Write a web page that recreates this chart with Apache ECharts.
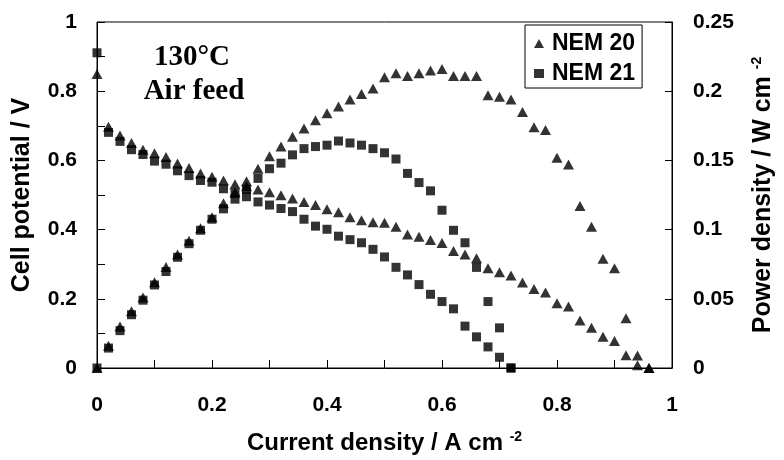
<!DOCTYPE html>
<html><head><meta charset="utf-8">
<script src="https://cdn.jsdelivr.net/npm/echarts@6/dist/echarts.min.js"></script>
<style>html,body{margin:0;padding:0;background:#fff}#c{width:784px;height:460px}</style>
</head><body><div id="c"></div>
<script>
// NEM 20 (triangles)
const current20 = [0,0.02,0.04,0.06,0.08,0.10,0.12,0.14,0.16,0.18,0.20,0.22,0.24,0.26,0.28,0.30,0.32,0.34,0.36,0.38,0.40,0.42,0.44,0.46,0.48,0.50,0.52,0.54,0.56,0.58,0.60,0.62,0.64,0.66,0.68,0.70,0.72,0.74,0.76,0.78,0.80,0.82,0.84,0.86,0.88,0.90,0.92,0.94,0.96];
const potential20 = [0.85,0.697,0.672,0.650,0.631,0.621,0.610,0.591,0.578,0.562,0.553,0.542,0.531,0.525,0.516,0.508,0.499,0.490,0.480,0.471,0.459,0.450,0.436,0.427,0.421,0.420,0.408,0.386,0.379,0.370,0.361,0.338,0.328,0.317,0.288,0.277,0.267,0.247,0.228,0.218,0.187,0.178,0.137,0.116,0.090,0.078,0.037,0.008,0];
const power20 = [0,0.016,0.030,0.041,0.051,0.062,0.073,0.082,0.092,0.101,0.109,0.119,0.127,0.135,0.144,0.153,0.160,0.167,0.173,0.179,0.184,0.189,0.194,0.198,0.202,0.210,0.213,0.211,0.213,0.215,0.216,0.211,0.211,0.211,0.197,0.196,0.194,0.185,0.174,0.172,0.152,0.147,0.117,0.102,0.079,0.072,0.036,0.009,0];
// NEM 21 (squares)
const current21 = [0,0.02,0.04,0.06,0.08,0.10,0.12,0.14,0.16,0.18,0.20,0.22,0.24,0.26,0.28,0.30,0.32,0.34,0.36,0.38,0.40,0.42,0.44,0.46,0.48,0.50,0.52,0.54,0.56,0.58,0.60,0.62,0.64,0.66,0.68,0.70,0.72];
const potential21 = [0.911,0.681,0.655,0.631,0.617,0.598,0.589,0.570,0.556,0.542,0.537,0.518,0.504,0.495,0.480,0.471,0.461,0.452,0.430,0.410,0.401,0.381,0.371,0.362,0.343,0.321,0.291,0.269,0.241,0.213,0.192,0.171,0.121,0.090,0.061,0.031,0];
const power21 = [0,0.0144,0.027,0.0385,0.049,0.060,0.0697,0.080,0.0898,0.0995,0.1075,0.115,0.122,0.129,0.137,0.144,0.148,0.154,0.1585,0.160,0.161,0.164,0.1626,0.161,0.1585,0.1555,0.151,0.1406,0.134,0.128,0.114,0.0995,0.0905,0.0727,0.048,0.029,0];

const seriesNames = ['NEM 20','NEM 21'];
const annotation = ['130°C','Air feed'];

const pairs = (xs, ys) => xs.map((x, i) => [x, ys[i]]);
const sans = 'Liberation Sans, Arial, sans-serif';
const serif = 'Liberation Serif, Times New Roman, serif';
const supStyle = {fontFamily:sans, fontWeight:'bold', fontSize:14, color:'#000', verticalAlign:'top', padding:[0,0,12,0]};

const chart = echarts.init(document.getElementById('c'), null, {renderer:'canvas'});
const tri = {symbol:'triangle', symbolSize:[11,10], itemStyle:{color:'#000'}};
const sq = {symbol:'rect', symbolSize:9, itemStyle:{color:'#000'}};
chart.setOption({
  animation:false,
  backgroundColor:'#fff',
  grid:{left:97, top:22, width:575, height:352, show:true, borderColor:'#000', borderWidth:1, containLabel:false},
  xAxis:{type:'value', min:0, max:1, interval:0.2,
    name:'Current density / A cm {sup|-2}', nameLocation:'middle', nameGap:62,
    nameTextStyle:{fontFamily:sans, fontWeight:'bold', fontSize:24, color:'#000', rich:{sup:supStyle}},
    axisLine:{show:true, lineStyle:{color:'#000', width:1}},
    axisTick:{show:true, inside:true, length:8, lineStyle:{color:'#000'}},
    minorTick:{show:true, splitNumber:2, length:8, lineStyle:{color:'#000'}},
    splitLine:{show:false},
    axisLabel:{margin:27, fontFamily:sans, fontWeight:'bold', fontSize:21, color:'#000'}
  },
  yAxis:[
    {type:'value', min:0, max:1, interval:0.2, position:'left',
      name:'Cell potential / V', nameLocation:'middle', nameGap:62, nameRotate:90,
      nameTextStyle:{fontFamily:sans, fontWeight:'bold', fontSize:25, color:'#000'},
      axisLine:{show:true, lineStyle:{color:'#000'}},
      axisTick:{show:true, inside:true, length:8, lineStyle:{color:'#000'}},
      minorTick:{show:true, splitNumber:2, length:8, lineStyle:{color:'#000'}},
      splitLine:{show:false},
      axisLabel:{margin:20, fontFamily:sans, fontWeight:'bold', fontSize:21, color:'#000'}
    },
    {type:'value', min:0, max:0.25, interval:0.05, position:'right',
      name:'Power density / W cm {sup|-2}', nameLocation:'middle', nameGap:78, nameRotate:90,
      nameTextStyle:{fontFamily:sans, fontWeight:'bold', fontSize:25, color:'#000', rich:{sup:supStyle}},
      axisLine:{show:true, lineStyle:{color:'#000'}},
      axisTick:{show:true, inside:true, length:7, lineStyle:{color:'#000'}},
      splitLine:{show:false},
      axisLabel:{margin:21, fontFamily:sans, fontWeight:'bold', fontSize:21, color:'#000'}
    }
  ],
  legend:{orient:'vertical', left:525, top:25, padding:[7,7,3,9], itemGap:7,
    borderColor:'#000', borderWidth:1, borderRadius:0, backgroundColor:'#fff',
    itemWidth:10, itemHeight:9,
    textStyle:{fontFamily:sans, fontWeight:'bold', fontSize:23, color:'#000', padding:[0,0,0,3]},
    data:[{name:seriesNames[0], icon:'triangle'},{name:seriesNames[1], icon:'rect'}]
  },
  graphic:[
    {type:'text', x:192, y:58, style:{text:annotation[0], align:'center', verticalAlign:'middle', font:'bold 29px '+serif, fill:'#000'}},
    {type:'text', x:194, y:92, style:{text:annotation[1], align:'center', verticalAlign:'middle', font:'bold 29px '+serif, fill:'#000'}}
  ],
  series:[
    Object.assign({type:'scatter', name:seriesNames[0], yAxisIndex:0, data:pairs(current20, potential20)}, tri),
    Object.assign({type:'scatter', name:seriesNames[0], yAxisIndex:1, data:pairs(current20, power20)}, tri),
    Object.assign({type:'scatter', name:seriesNames[1], yAxisIndex:0, data:pairs(current21, potential21)}, sq),
    Object.assign({type:'scatter', name:seriesNames[1], yAxisIndex:1, data:pairs(current21, power21)}, sq)
  ]
});
</script></body></html>
